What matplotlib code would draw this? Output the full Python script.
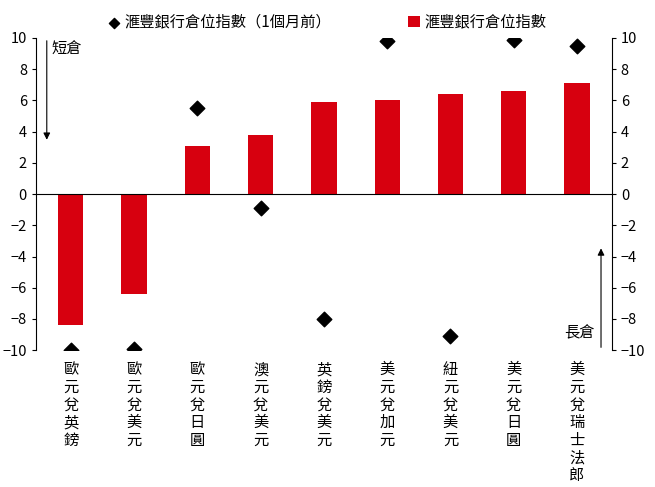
import matplotlib
matplotlib.use("Agg")
import matplotlib.pyplot as plt
import numpy as np

plt.rcParams['font.family'] = ['Noto Sans CJK TC', 'DejaVu Sans']

categories = ["歐元兌英鎊", "歐元兌美元", "歐元兌日圓", "澳元兌美元", "英鎊兌美元",
              "美元兌加元", "紐元兌美元", "美元兌日圓", "美元兌瑞士法郎"]
current = [-8.4, -6.4, 3.1, 3.8, 5.9, 6.0, 6.4, 6.6, 7.1]
month_ago = [-10.0, -9.9, 5.5, -0.9, -8.0, 9.8, -9.1, 9.9, 9.5]
yticks = [-10, -8, -6, -4, -2, 0, 2, 4, 6, 8, 10]

fig = plt.figure(figsize=(6.55, 4.87), dpi=100)
ax = fig.add_axes([0.055, 0.281, 0.879, 0.641])
x = np.arange(len(categories))
ax.bar(x, current, width=0.4, color="#d7000f", label="滙豐銀行倉位指數")
ax.scatter(x, month_ago, marker="D", s=55, color="black", zorder=3,
           label="滙豐銀行倉位指數（1個月前）")
ax.axhline(0, color="black", lw=0.8)
ax.set_ylim(-10, 10)
ax.set_xlim(-0.55, len(categories) - 0.45)
ax.set_yticks(yticks)
ax.tick_params(axis="y", labelsize=10.5, direction="out", length=3)
ax.tick_params(right=True, labelright=True)
ax.set_xticks(x)
ax.set_xticklabels(["\n".join(c) for c in categories], fontsize=11, linespacing=1.05,
                   va="top")
ax.tick_params(axis="x", length=0, pad=8)
ax.spines["top"].set_visible(False)
ax.spines["bottom"].set_visible(False)

ax.annotate("", xy=(-0.38, 3.3), xytext=(-0.38, 10),
            arrowprops=dict(arrowstyle="-|>", color="black", lw=0.8))
ax.text(-0.3, 9.3, "短倉", fontsize=11, va="center")
ax.annotate("", xy=(8.38, -3.3), xytext=(8.38, -10),
            arrowprops=dict(arrowstyle="-|>", color="black", lw=0.8))
ax.text(8.28, -8.9, "長倉", fontsize=11, va="center", ha="right")

fig.legend(loc="upper center", bbox_to_anchor=(0.5, 1.0), ncol=2, frameon=False,
           fontsize=11, handlelength=0.8, handletextpad=0.3, columnspacing=5,
           markerscale=0.7)
fig.savefig("out.png", dpi=100)
